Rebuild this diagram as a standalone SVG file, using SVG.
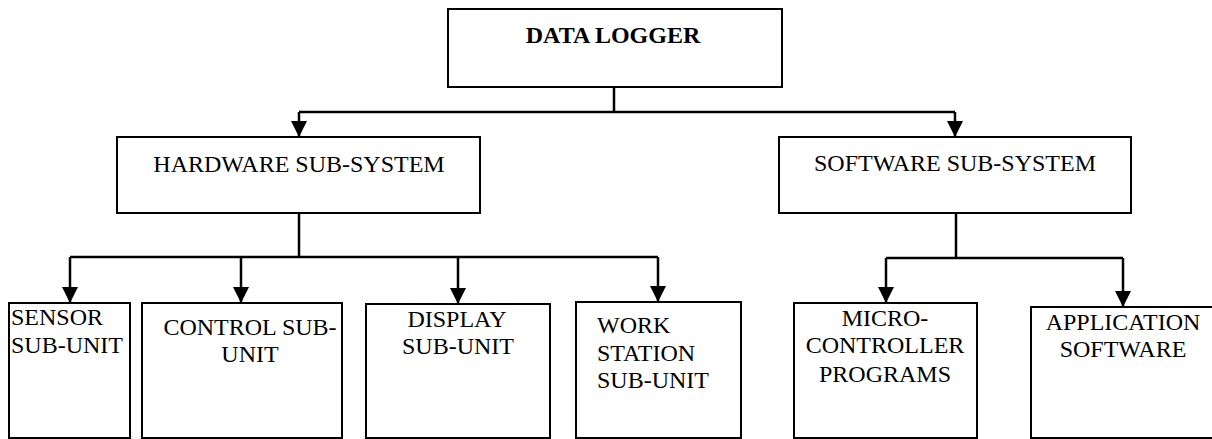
<svg xmlns="http://www.w3.org/2000/svg" width="1212" height="439" viewBox="0 0 1212 439">
<style>
.box{fill:#fff;stroke:#000;stroke-width:2}
.t{font-size:24px;fill:#000}
.m{text-anchor:middle}
.b{font-weight:bold}
.c{fill:none;stroke:#000;stroke-width:2.5}
</style>
<defs>
<marker id="ah" viewBox="0 0 16 16" refX="16" refY="8" markerWidth="16" markerHeight="16" markerUnits="userSpaceOnUse" orient="auto">
<path d="M0,0 L16,8 L0,16 z" fill="#000"/>
</marker>
</defs>
<rect width="1212" height="439" fill="#fff"/>
<g id="connectors">
<path class="c" d="M614,87 V112"/>
<path class="c" d="M299,112 H955"/>
<path class="c" d="M299,112 V137" marker-end="url(#ah)"/>
<path class="c" d="M955,112 V137" marker-end="url(#ah)"/>
<path class="c" d="M299,213 V257"/>
<path class="c" d="M70,257 H658"/>
<path class="c" d="M70,257 V303" marker-end="url(#ah)"/>
<path class="c" d="M241,257 V303" marker-end="url(#ah)"/>
<path class="c" d="M458,257 V304" marker-end="url(#ah)"/>
<path class="c" d="M658,257 V302" marker-end="url(#ah)"/>
<path class="c" d="M956,213 V258"/>
<path class="c" d="M886,258 H1123"/>
<path class="c" d="M886,258 V303" marker-end="url(#ah)"/>
<path class="c" d="M1123,258 V307" marker-end="url(#ah)"/>
</g>
<g font-family="Liberation Serif, Times New Roman, DejaVu Serif, serif">
<g id="data-logger">
<rect class="box" x="448" y="9" width="334" height="78"/>
<text class="t m b" x="613" y="43">DATA LOGGER</text>
</g>
<g id="hardware">
<rect class="box" x="117" y="137" width="363" height="76"/>
<text class="t m" x="299" y="172">HARDWARE SUB-SYSTEM</text>
</g>
<g id="software">
<rect class="box" x="779" y="137" width="352" height="76"/>
<text class="t m" x="955" y="171">SOFTWARE SUB-SYSTEM</text>
</g>
<g id="sensor">
<rect class="box" x="9" y="303" width="121" height="135"/>
<text class="t" x="11" y="325">SENSOR</text>
<text class="t" x="11" y="353">SUB-UNIT</text>
</g>
<g id="control">
<rect class="box" x="142" y="303" width="200" height="135"/>
<text class="t m" x="250" y="335">CONTROL SUB-</text>
<text class="t m" x="250" y="362">UNIT</text>
</g>
<g id="display">
<rect class="box" x="366" y="304" width="184" height="134"/>
<text class="t m" x="457" y="327">DISPLAY</text>
<text class="t m" x="458" y="354">SUB-UNIT</text>
</g>
<g id="workstation">
<rect class="box" x="576" y="302" width="165" height="136"/>
<text class="t" x="597" y="333">WORK</text>
<text class="t" x="597" y="361">STATION</text>
<text class="t" x="597" y="388">SUB-UNIT</text>
</g>
<g id="microcontroller">
<rect class="box" x="794" y="303" width="183" height="135"/>
<text class="t m" x="885" y="326">MICRO-</text>
<text class="t m" x="885" y="353">CONTROLLER</text>
<text class="t m" x="885" y="382">PROGRAMS</text>
</g>
<g id="application">
<rect class="box" x="1031" y="307" width="190" height="131"/>
<text class="t m" x="1123" y="330">APPLICATION</text>
<text class="t m" x="1123" y="357">SOFTWARE</text>
</g>
</g>
</svg>
